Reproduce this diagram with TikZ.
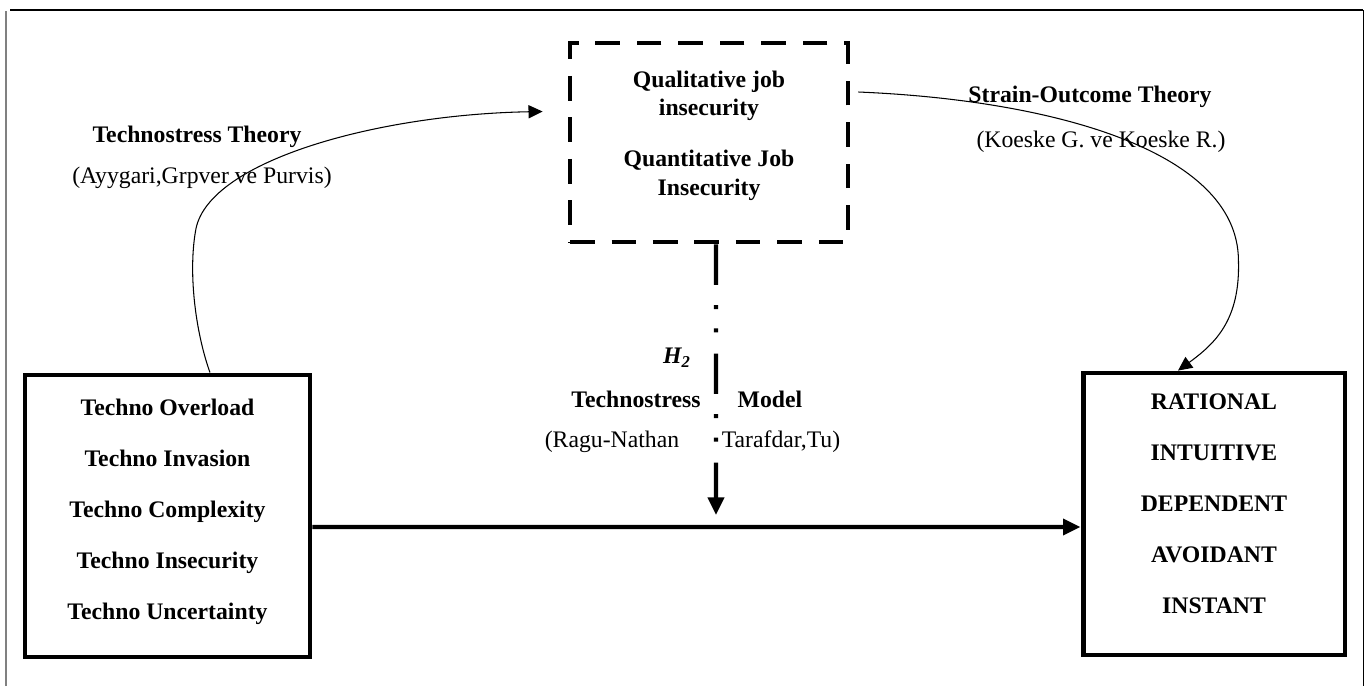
\documentclass[tikz,border=0pt]{standalone}
\usepackage{fontspec}
\setmainfont{Liberation Serif}
\usetikzlibrary{arrows.meta}
\tikzset{>=stealth}
\tikzset{
  factorbox/.style={draw, line width=2.8pt, align=center, inner sep=0pt,
    font=\bfseries\fontsize{13.5}{29}\selectfont},
  jobbox/.style={draw, line width=2.8pt, dash pattern=on 14pt off 9.6pt,
    minimum width=5.56cm, minimum height=3.98cm, align=center, inner sep=0pt,
    text depth=11pt, font=\bfseries\fontsize{13.5}{16}\selectfont},
  theorytitle/.style={font=\bfseries\fontsize{13.5}{16}\selectfont},
  theorysource/.style={font=\fontsize{13.5}{16}\selectfont},
  theoryarrow/.style={-{Triangle[length=8pt,width=7.5pt]}, line width=0.6pt},
  mainarrow/.style={-{Triangle[length=10pt,width=9pt]}, line width=2.3pt},
  modarrow/.style={-{Triangle[length=10pt,width=9pt]}, line width=2.5pt,
    dash pattern=on 23pt off 11.5pt on 2.3pt off 11pt on 2.3pt off 12pt}
}

\begin{document}
\begin{tikzpicture}[x=0.02cm, y=-0.02cm]
      \useasboundingbox (0,0) rectangle (1365,686);
      % frame
      \draw[gray, line width=1.1pt] (6,686) -- (6,11);
      \draw[line width=0.8pt] (10,10) -- (1363,10);
      \draw[line width=0.5pt] (1363,10) -- (1363,686);

      \node[factorbox, minimum width=5.7cm, minimum height=5.64cm, text depth=7.5pt] (techno) at (167.5,516)
        {Techno Overload\\Techno Invasion\\Techno Complexity\\Techno Insecurity\\Techno Uncertainty};
      \node[factorbox, minimum width=5.24cm, minimum height=5.64cm, text depth=12pt] (style) at (1214,514)
        {RATIONAL\\INTUITIVE\\DEPENDENT\\AVOIDANT\\INSTANT};
      \node[jobbox] (jobins) at (709,142.5)
        {Qualitative job\\insecurity\\[13.5pt]Quantitative Job\\Insecurity};

      \node[theorytitle] (tsttitle) at (197,137) {Technostress Theory};
      \node[theorysource] (tstsrc) at (202,178) {(Ayygari,Grpver ve Purvis)};
      \node[theorytitle] (sottitle) at (1090,97) {Strain-Outcome Theory};
      \node[theorysource] (sotsrc) at (1101,142) {(Koeske G. ve Koeske R.)};

      \node[theorytitle] (hyp) at (677,358) {\textit{H\textsubscript{2}}};
      \node[theorytitle] (tsmleft) at (636,399) {Technostress};
      \node[theorytitle] (tsmright) at (770,399) {Model};
      \node[theorysource] (tsmsrcl) at (612,442) {(Ragu-Nathan};
      \node[theorysource] (tsmsrcr) at (781,442) {Tarafdar,Tu)};

      \coordinate (h2end) at (716,515);

      \draw[mainarrow] ([yshift=-0.22cm]techno.east) -- ([yshift=-0.26cm]style.west);
      \draw[modarrow] ([xshift=0.14cm]jobins.south) -- (h2end);
      \draw[theoryarrow] ([xshift=0.85cm]techno.north)
        .. controls +(-15,-42) and +(-8,42) .. +(-14,-144)
        .. controls +(14,-68) and +(-165,3) .. ([shift={(-0.5cm,0.62cm)}]jobins.west);
      \draw[theoryarrow] ([shift={(0.16cm,1.01cm)}]jobins.east)
        .. controls +(192,8) and +(-1,-110) .. +(380,168)
        .. controls +(2,60) and +(37,-27) .. ([xshift=-0.72cm]style.north);
    \end{tikzpicture}
\end{document}
